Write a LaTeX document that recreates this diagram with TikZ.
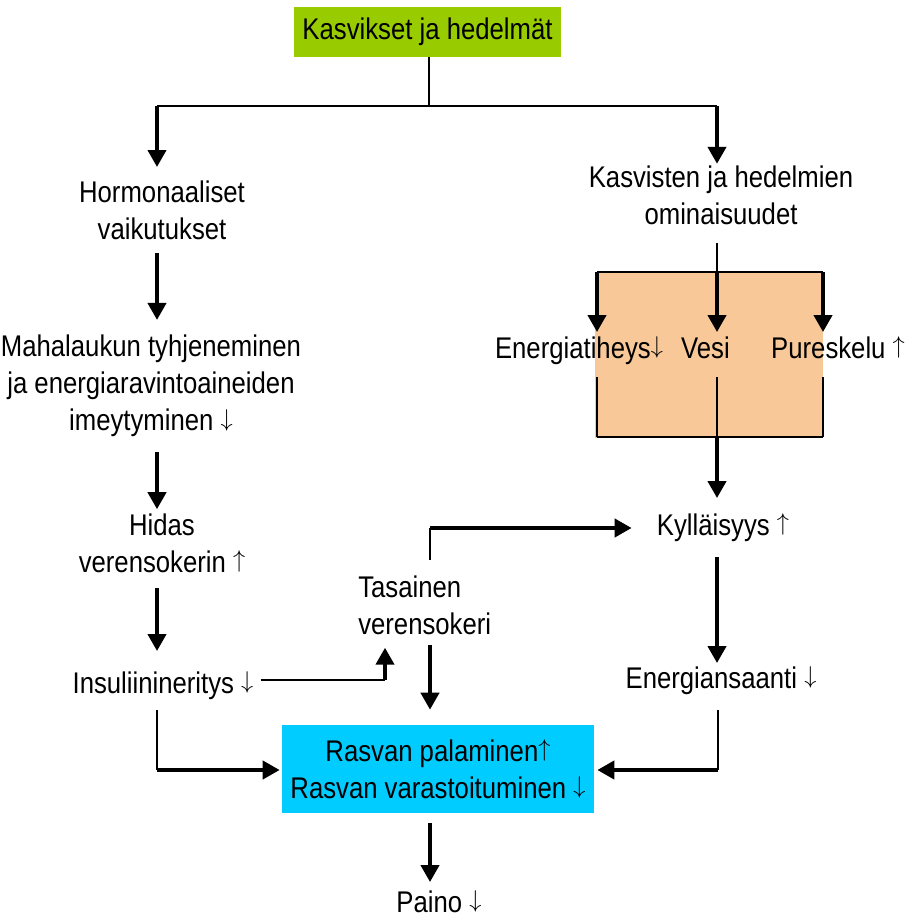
\documentclass[tikz,border=0pt]{standalone}
\usepackage{fontspec}
\setmainfont{Liberation Sans}[FakeStretch=0.86]
\usetikzlibrary{arrows.meta}
\definecolor{topgreen}{HTML}{99CC00}
\definecolor{boxorange}{HTML}{F8C898}
\definecolor{boxblue}{HTML}{00CCFF}
\newcommand{\ArrUp}{\raisebox{3pt}{\fontsize{18}{18}\selectfont$\uparrow$}}
\newcommand{\ArrDn}{\raisebox{3pt}{\fontsize{18}{18}\selectfont$\downarrow$}}
\begin{document}
\begin{tikzpicture}[x=0.025cm,y=-0.025cm,
  lbl/.style={font=\fontsize{21.26}{26.2}\selectfont, align=center, inner sep=0pt},
  thinline/.style={line width=0.05cm},
  thickline/.style={line width=0.1cm},
  arr/.style={thickline, -{Triangle[length=0.425cm,width=0.45cm]}}
]
\useasboundingbox (0,0) rectangle (909,918);

% background areas
\node[fill=boxorange, minimum width=5.7cm, minimum height=4.15cm, inner sep=0pt] (obox) at (709,355) {};

% nodes
\node[lbl, fill=topgreen, minimum width=6.675cm, minimum height=1.25cm] (veg) at (427.5,32) {Kasvikset ja hedelmät};
\node[lbl] (hormon) at (162,210.7) {Hormonaaliset\\vaikutukset};
\node[lbl] (kasv) at (721,195.5) {Kasvisten ja hedelmien\\ominaisuudet};
\node[lbl] (maha) at (151,386) {Mahalaukun tyhjeneminen\\ja energiaravintoaineiden\\imeytyminen \ArrDn};
\node[lbl] (hidas) at (162,543) {Hidas\\verensokerin \ArrUp};
\node[lbl, anchor=base] (insu) at (163,693) {Insuliinineritys \ArrDn};
\node[lbl, align=left, anchor=west] (tasa) at (358,605) {Tasainen\\verensokeri};
\node[lbl, anchor=base] (kyl) at (723,535) {Kylläisyys \ArrUp};
\node[lbl, anchor=base] (energ) at (721,688) {Energiansaanti \ArrDn};
\node[lbl, fill=boxblue, minimum width=7.8cm, minimum height=2.2cm] (rasvan) at (438,769) {Rasvan palaminen\ArrUp\\Rasvan varastoituminen \ArrDn};
\node[lbl, anchor=base] (paino) at (439,912) {Paino \ArrDn};
\node[lbl, anchor=base] (ener) at (579,358) {Energiatiheys\ArrDn};
\node[lbl, anchor=base] (vesi) at (705.5,358) {Vesi};
\node[lbl, anchor=base] (pure) at (838,358) {Pureskelu \ArrUp};

% junctions
\coordinate (split) at (429,106);
\coordinate (sL) at (157,106);
\coordinate (sR) at (717,106);
\coordinate (oL) at (597,272);
\coordinate (oM) at (717,272);
\coordinate (oR) at (823,272);
\coordinate (bL) at (597,437);
\coordinate (bM) at (717,437);
\coordinate (bR) at (823,437);
\coordinate (c1) at (385,680);
\coordinate (c2) at (430,528);
\coordinate (c3) at (157,770);
\coordinate (c4) at (718,770);

% connectors
\draw[thinline] (veg.south -| split) -- (split);
\draw[thinline] (sL) -- (sR);
\draw[arr, shorten >=0.35cm] (sL) -- (sL |- hormon.north);
\draw[arr, shorten >=0.05cm] (sR) -- (sR |- kasv.north);
\draw[arr, shorten <=0.325cm, shorten >=0.375cm] (hormon.south -| sL) -- (maha.north -| sL);
\draw[arr, shorten <=0.375cm, shorten >=0.1cm] (maha.south -| sL) -- (hidas.north -| sL);
\draw[arr, shorten <=0.375cm, shorten >=0.5cm] (hidas.south -| sL) -- (insu.north -| sL);

\draw[thinline, shorten <=0.45cm] (kasv.south -| oM) -- (oM);
\draw[thinline] (oL) -- (oR);
\draw[arr, shorten >=0.1cm] (oL) -- (oL |- vesi.north);
\draw[arr, shorten >=0.1cm] (oM) -- (oM |- vesi.north);
\draw[arr, shorten >=0.1cm] (oR) -- (oR |- vesi.north);
\draw[thinline, shorten <=0.325cm] (ener.south -| bL) -- (bL);
\draw[thinline, shorten <=0.325cm] (ener.south -| bM) -- (bM);
\draw[thinline, shorten <=0.325cm] (ener.south -| bR) -- (bR);
\draw[thinline] (bL) -- (bR);
\draw[arr, shorten >=0.375cm] (bM) -- (kyl.north -| bM);
\draw[arr, shorten <=0.4cm, shorten >=0.075cm] (kyl.south -| bM) -- (energ.north -| bM);

\draw[thinline, shorten <=0.4cm] (energ.south -| c4) -- (c4);
\draw[arr, shorten >=0.075cm] (c4) -- (rasvan.east |- c4);
\draw[thinline, shorten <=0.275cm] (insu.south -| c3) -- (c3);
\draw[arr, shorten >=0.05cm] (c3) -- (rasvan.west |- c3);

\draw[thinline, shorten <=0.175cm] (insu.east |- c1) -- (c1);
\draw[arr, shorten >=0.325cm] (c1) -- (c1 |- tasa.south);
\draw[thinline, shorten <=0.375cm] (tasa.north -| c2) -- (c2);
\draw[arr, shorten >=0.625cm] (c2) -- (kyl.west |- c2);
\draw[arr, shorten <=0.25cm, shorten >=0.375cm] (tasa.south -| c2) -- (rasvan.north -| c2);
\draw[arr, shorten <=0.25cm, shorten >=0.2cm] (rasvan.south -| c2) -- (paino.north -| c2);
\end{tikzpicture}
\end{document}
